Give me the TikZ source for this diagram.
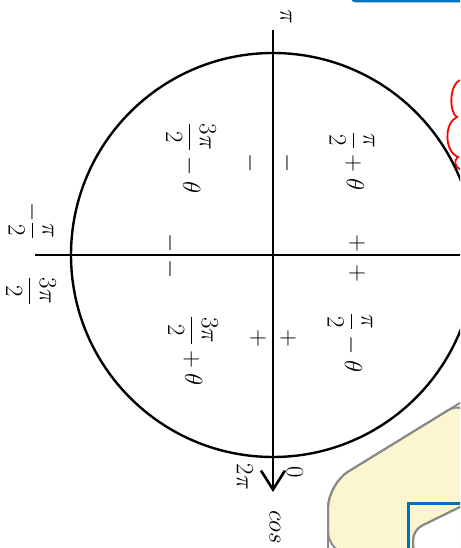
\documentclass[tikz,border=0pt]{standalone}
\usetikzlibrary{arrows.meta}
\definecolor{slideblue}{HTML}{0070C0}
\definecolor{noteyellow}{HTML}{FBF5D0}
\definecolor{notegray}{HTML}{8A8A8A}
\tikzset{
  lab/.style={rotate=-90, inner sep=0pt, font=\fontsize{34}{38}\selectfont},
  sgn/.style={rotate=-90, inner sep=0pt, font=\fontsize{26}{30}\selectfont},
  tick/.style={rotate=-90, inner sep=0pt, font=\fontsize{28}{32}\selectfont},
  axis/.style={line width=2.6pt},
  note/.style={draw=notegray, line width=2pt, rounded corners=24pt}
}
\begin{document}
\begin{tikzpicture}[x=1pt, y=1pt]
  \def\R{202}
  \useasboundingbox (-273,-293) rectangle (187,255);
  \clip (-273,-293) rectangle (187,255);
  % pieces of the slide round the circle
  \draw[slideblue, line width=2.6pt, rounded corners=2pt] (80,270) -- (80,254) -- (200,254);
  \draw[red, line width=1.8pt] (187,175) .. controls (176,170) and (176,142) .. (184,138)
    .. controls (171,132) and (171,104) .. (185,98) .. controls (180,94) and (182,88) .. (188,85);
  \fill[noteyellow, note] (195,-143) -- (55,-229) -- (55,-300) -- (195,-300) -- cycle;
  \draw[note] (195,-143) -- (55,-229) -- (55,-300);
  \fill[white, note, rounded corners=10pt] (195,-248) -- (140,-275) -- (140,-300) -- (195,-300) -- cycle;
  \draw[note, rounded corners=10pt] (195,-248) -- (140,-275) -- (140,-300);
  \draw[slideblue, line width=3pt] (135,-300) -- (135,-248) -- (200,-248);
  % circle and axes
  \coordinate (O) at (0,0);
  \coordinate (top) at (0,225);
  \coordinate (bot) at (0,-237);
  \coordinate (west) at (-238,0);
  \coordinate (east) at (195,0);
  \draw[line width=2.4pt] (O) circle [radius=\R];
  \draw[axis] (west) -- (east);
  \draw[axis, -{Straight Barb[length=19pt, width=24pt, line width=2.6pt]}] (top) -- (bot);
  % ends of the axes
  \node[tick] (pi) at (13,238) {$\pi$};
  \node[lab] (mhalf) at (-242,34) {$-\displaystyle\frac{\pi}{2}$};
  \node[lab] (thalf) at (-242,-36) {$\displaystyle\frac{3\pi}{2}$};
  \node[tick] (zero) at (22,-217) {$0$};
  \node[tick] (twopi) at (-28,-222) {$2\pi$};
  \node[tick] (cos) at (2,-272) {$cos$};
  % quadrants
  \node[lab] (q1) at (79,94) {$\displaystyle\frac{\pi}{2}+\theta$};
  \node[lab] (q2) at (-82,97) {$\displaystyle\frac{3\pi}{2}-\theta$};
  \node[lab] (q3) at (-80,-96) {$\displaystyle\frac{3\pi}{2}+\theta$};
  \node[lab] (q4) at (77,-88) {$\displaystyle\frac{\pi}{2}-\theta$};
  % signs
  \node[sgn] (s1) at (-23,92) {$-$};
  \node[sgn] (s2) at (14,92) {$-$};
  \node[sgn] (s3) at (-15,-83) {$+$};
  \node[sgn] (s4) at (15,-83) {$+$};
  \node[sgn] (s5) at (84,12) {$+$};
  \node[sgn] (s6) at (84,-18) {$+$};
  \node[sgn] (s7) at (-103,12) {$-$};
  \node[sgn] (s8) at (-103,-14) {$-$};
\end{tikzpicture}
\end{document}
